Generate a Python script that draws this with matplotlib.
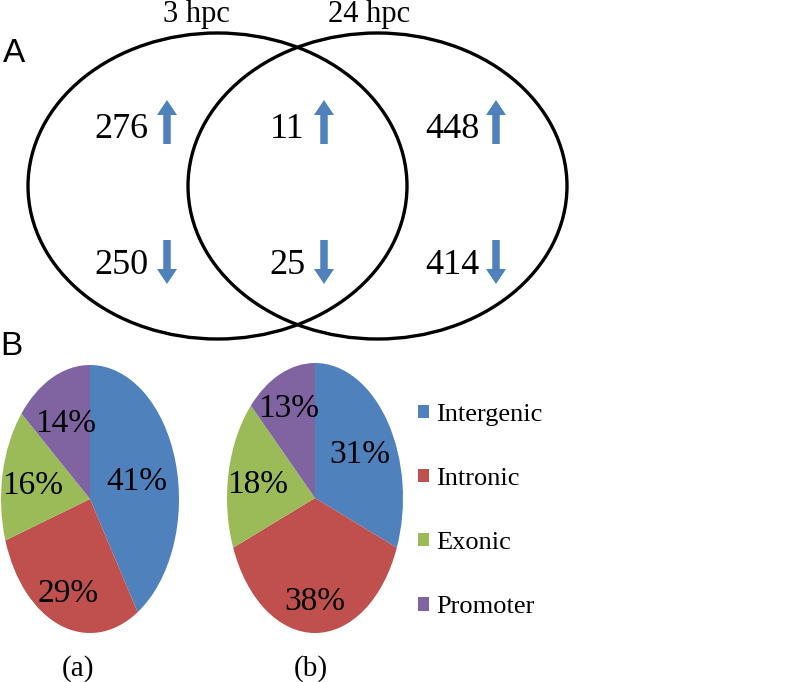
import matplotlib.pyplot as plt
from matplotlib.patches import Ellipse
import numpy as np

# venn counts (up / down regulated)
venn_titles = ['3 hpc', '24 hpc']
up_counts = [276, 11, 448]
down_counts = [250, 25, 414]

# pie data
categories = ['Intergenic', 'Intronic', 'Exonic', 'Promoter']
pie_a = [41, 29, 16, 14]
pie_b = [31, 38, 18, 13]
pie_names = ['(a)', '(b)']
colors = ['#4F81BD', '#C0504D', '#9BBB59', '#8064A2']

W, H = 787, 682
serif = 'Liberation Serif'
sans = 'Liberation Sans'

fig = plt.figure(figsize=(W / 100, H / 100), dpi=100)
ax = fig.add_axes([0, 0, 1, 1])
ax.set_xlim(0, W)
ax.set_ylim(H, 0)
ax.axis('off')

# venn circles
for cx in [217.5, 377.5]:
    ax.add_patch(Ellipse((cx, 186), 379, 306, fill=False, ec='black', lw=2.4))
ax.text(196, 22, venn_titles[0], family=serif, fontsize=22, ha='center', va='baseline')
ax.text(369, 22, venn_titles[1], family=serif, fontsize=22, ha='center', va='baseline')
ax.text(3, 62, 'A', family=sans, fontsize=24, ha='left', va='baseline')
ax.text(0, 355, 'B', family=sans, fontsize=24, ha='left', va='baseline')

num_x = [121, 287, 452]
arrow_x = [167, 324, 496]
for i in range(3):
    ax.text(num_x[i], 138, str(up_counts[i]), family=serif, fontsize=26,
            ha='center', va='baseline')
    ax.text(num_x[i], 274, str(down_counts[i]), family=serif, fontsize=26,
            ha='center', va='baseline')
    ax.arrow(arrow_x[i], 144, 0, -44, width=7.5, head_width=20, head_length=15,
             length_includes_head=True, color='#4F81BD', lw=0)
    ax.arrow(arrow_x[i], 240, 0, 44, width=7.5, head_width=20, head_length=15,
             length_includes_head=True, color='#4F81BD', lw=0)

# pies, drawn stretched like the original
pie_boxes = [(1, 365, 178, 268), (227, 363, 176, 270)]
label_dist = [[0.55, 0.72, 0.66, 0.65], [0.62, 0.74, 0.66, 0.75]]
wedges_a = None
for k, vals in enumerate([pie_a, pie_b]):
    x0, y0, w, h = pie_boxes[k]
    pax = fig.add_axes([x0 / W, 1 - (y0 + h) / H, w / W, h / H])
    wedges, _ = pax.pie(vals, colors=colors, startangle=90, counterclock=False,
                        wedgeprops=dict(linewidth=0))
    pax.set_aspect('auto')
    pax.set_xlim(-1, 1)
    pax.set_ylim(-1, 1)
    for j, wd in enumerate(wedges):
        mid = np.deg2rad((wd.theta1 + wd.theta2) / 2)
        d = label_dist[k][j]
        pax.text(d * np.cos(mid), d * np.sin(mid), '%d%%' % vals[j], family=serif,
                 fontsize=24, ha='center', va='center_baseline')
    if k == 0:
        wedges_a = wedges
    ax.text(x0 + w / 2 - 12 + 8 * k, 676, pie_names[k], family=serif, fontsize=21,
            ha='center', va='baseline')

fig.legend(wedges_a, categories, loc='center left', bbox_to_anchor=(418 / W, 1 - 511 / H),
           frameon=False, prop={'family': serif, 'size': 19}, handlelength=0.4,
           handleheight=0.4, handletextpad=0.3, labelspacing=1.6, borderpad=0,
           borderaxespad=0)

fig.savefig('out.png', dpi=100)
